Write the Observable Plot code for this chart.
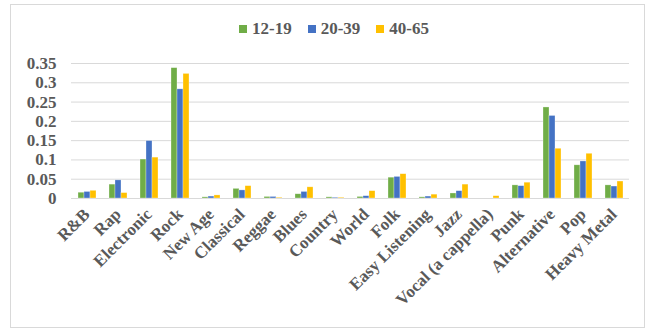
<!DOCTYPE html>
<html>
<head>
<meta charset="utf-8">
<script src="https://cdn.jsdelivr.net/npm/d3@7"></script>
<script src="https://cdn.jsdelivr.net/npm/@observablehq/plot@0.6"></script>
<style>
  html, body { margin: 0; padding: 0; background: #fff; }
  #wrap { position: relative; width: 652px; height: 330px; overflow: hidden; }
  #frame { position: absolute; left: 10px; top: 4px; width: 635px; height: 324px; border: 1px solid #D9D9D9; box-sizing: border-box; pointer-events: none; }
  #legend { position: absolute; left: 239px; top: 19px; display: flex; align-items: center; font-family: "Liberation Serif", "Times New Roman", serif; font-weight: bold; font-size: 17px; color: #595959; }
  #legend .item { display: flex; align-items: center; margin-right: 16px; }
  #legend .sw { width: 8px; height: 8px; margin-right: 5px; }
  #chart { position: absolute; left: 0; top: 0; }
</style>
</head>
<body>
<div id="wrap">
  <div id="chart"></div>
  <div id="legend"></div>
  <div id="frame"></div>
</div>
<script>
const genres = ["R&B", "Rap", "Electronic", "Rock", "New Age", "Classical", "Reggae", "Blues", "Country", "World", "Folk", "Easy Listening", "Jazz", "Vocal (a cappella)", "Punk", "Alternative", "Pop", "Heavy Metal"];
const series = ["12-19", "20-39", "40-65"];
const colors = ["#70AD47", "#4472C4", "#FFC000"];
const age12_19 = [0.015, 0.036, 0.101, 0.338, 0.003, 0.025, 0.004, 0.011, 0.003, 0.004, 0.054, 0.003, 0.013, 0.000, 0.034, 0.236, 0.086, 0.034];
const age20_39 = [0.017, 0.047, 0.149, 0.283, 0.005, 0.021, 0.004, 0.017, 0.002, 0.006, 0.056, 0.005, 0.019, 0.000, 0.032, 0.214, 0.096, 0.031];
const age40_65 = [0.020, 0.014, 0.106, 0.323, 0.008, 0.032, 0.002, 0.029, 0.002, 0.019, 0.063, 0.010, 0.036, 0.006, 0.041, 0.129, 0.116, 0.044];
const yTicks = [0, 0.05, 0.1, 0.15, 0.2, 0.25, 0.3, 0.35];
const yTickLabels = ["0", "0.05", "0.1", "0.15", "0.2", "0.25", "0.3", "0.35"];

const valuesBySeries = [age12_19, age20_39, age40_65];
const data = [];
genres.forEach((g, i) => {
  series.forEach((s, j) => data.push({genre: g, age: s, value: valuesBySeries[j][i]}));
});

const font = '"Liberation Serif", "Times New Roman", serif';

const chart = Plot.plot({
  width: 652,
  height: 330,
  marginTop: 63,
  marginBottom: 132,
  marginLeft: 68,
  marginRight: 20,
  style: {fontFamily: font, fontWeight: "bold", color: "#595959", background: "transparent"},
  fx: {domain: genres, padding: 0, label: null},
  x: {domain: series, paddingInner: 0.04, paddingOuter: 0.76, axis: null},
  y: {domain: [0, 0.35], label: null},
  color: {domain: series, range: colors},
  marks: [
    Plot.ruleY(yTicks, {stroke: "#D9D9D9", strokeWidth: 1}),
    Plot.barY(data, {fx: "genre", x: "age", y: "value", fill: "age", stroke: "white", strokeOpacity: 0.5, strokeWidth: 0.6}),
    Plot.axisY({ticks: yTicks, tickFormat: (d) => yTickLabels[yTicks.indexOf(d)], tickSize: 0, tickPadding: 15, fontSize: 17, label: null}),
    Plot.axisFx({anchor: "bottom", tickRotate: -45, tickSize: 0, tickPadding: 13, fontSize: 17, label: null})
  ]
});
document.getElementById("chart").appendChild(chart);

const legend = document.getElementById("legend");
series.forEach((s, j) => {
  const item = document.createElement("div");
  item.className = "item";
  const sw = document.createElement("span");
  sw.className = "sw";
  sw.style.background = colors[j];
  const t = document.createElement("span");
  t.textContent = s;
  item.appendChild(sw);
  item.appendChild(t);
  legend.appendChild(item);
});
</script>
</body>
</html>
